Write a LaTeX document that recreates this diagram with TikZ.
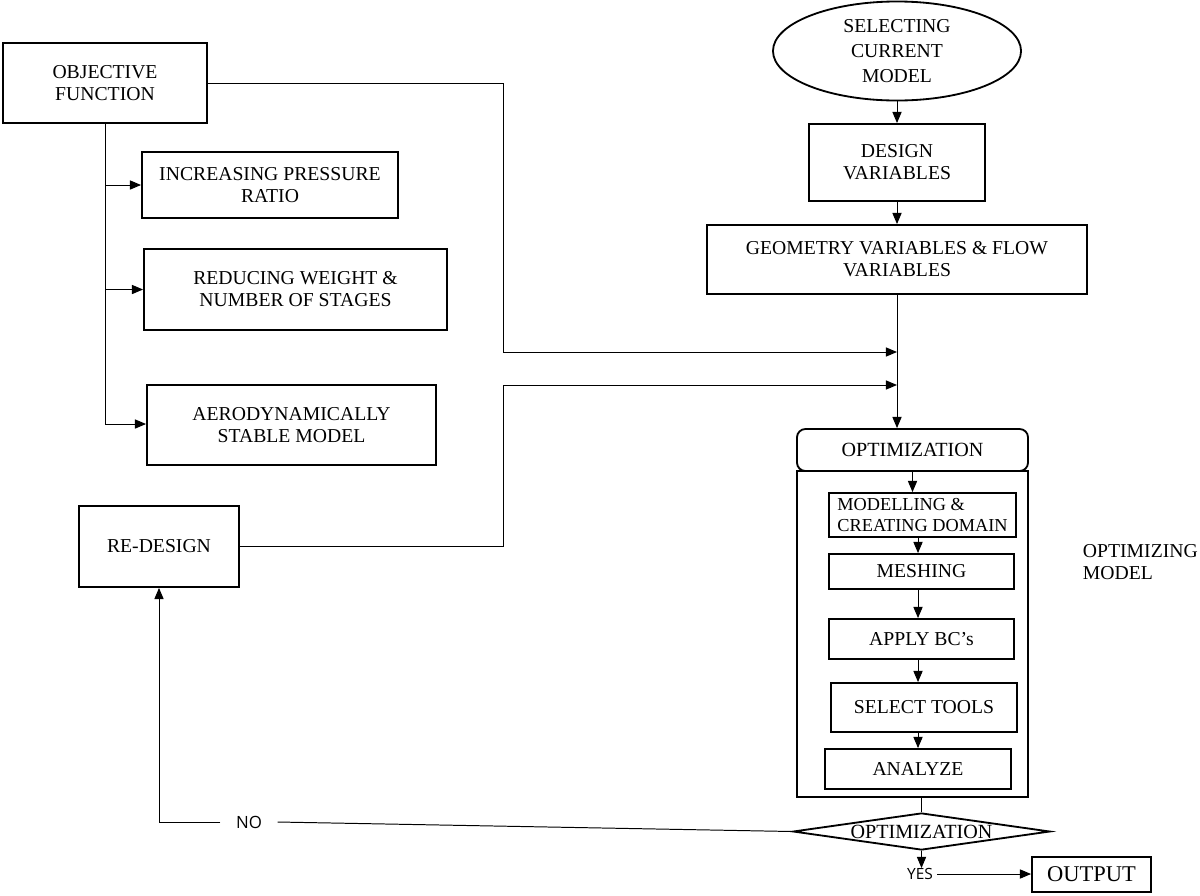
\documentclass[tikz,border=0pt]{standalone}
\usepackage{fontspec}
\setmainfont{Liberation Serif}
\newfontfamily\yesnofont{Open Sans}
\usetikzlibrary{arrows.meta}
\usetikzlibrary{shapes,positioning}

\begin{document}
\begin{tikzpicture}[x=0.025cm, y=-0.025cm]
    \tikzstyle{arrow} = [line width=0.7pt,-{Triangle[length=2.8mm,width=2.3mm]}]
    \tikzstyle{line} = [line width=0.7pt]
    \tikzstyle{box} = [draw, line width=1.3pt, inner sep=2pt, align=center, font=\fontsize{14}{15.6}\selectfont]
    \tikzstyle{yn} = [inner sep=0pt, inner xsep=11pt, font=\yesnofont\fontsize{12}{14}\selectfont]
    \useasboundingbox (0,0) rectangle (1200,895);

    % left column
    \node[box, minimum width=5.1cm, minimum height=2cm] (obj) at (105,83) {OBJECTIVE\\FUNCTION};
    \node[box, minimum width=6.4cm, minimum height=1.65cm] (inc) at (270,185) {INCREASING PRESSURE\\RATIO};
    \node[box, minimum width=7.575cm, minimum height=2.025cm] (red) at (295.5,289.5) {REDUCING WEIGHT \&\\NUMBER OF STAGES};
    \node[box, minimum width=7.225cm, minimum height=2cm] (aero) at (291.5,425) {AERODYNAMICALLY\\STABLE MODEL};
    \node[box, minimum width=4cm, minimum height=2.025cm] (rd) at (159,546.5) {RE-DESIGN};

    % right column
    \node[draw, ellipse, line width=1.3pt, inner sep=0pt, minimum width=6.2cm, minimum height=2.475cm, align=center, font=\fontsize{14}{15.6}\selectfont] (ell) at (897,51) {SELECTING\\[2pt]CURRENT\\[2pt]MODEL};
    \node[box, minimum width=4.4cm, minimum height=1.925cm] (dv) at (897,162.5) {DESIGN\\VARIABLES};
    \node[box, minimum width=9.5cm, minimum height=1.725cm] (geom) at (897,259.5) {GEOMETRY VARIABLES \& FLOW\\VARIABLES};
    \node[box, rounded corners=6pt, minimum width=5.775cm, minimum height=1.05cm, font=\fontsize{14.3}{16}\selectfont] (opt) at (912.5,450) {OPTIMIZATION};
    \node[box, minimum width=5.775cm, minimum height=8.15cm] (frame) at (912.5,634) {};
    \node[box, minimum width=4.675cm, minimum height=1.1cm, align=left, font=\fontsize{13}{14.5}\selectfont] (model) at (922.5,515) {MODELLING \&\\CREATING DOMAIN};
    \node[box, minimum width=4.625cm, minimum height=0.875cm] (mesh) at (921.5,571.5) {MESHING};
    \node[box, minimum width=4.625cm, minimum height=1cm] (bc) at (921.5,639) {APPLY BC’s};
    \node[box, minimum width=4.65cm, minimum height=1.225cm] (tools) at (924,707.5) {SELECT TOOLS};
    \node[box, minimum width=4.65cm, minimum height=1cm] (ana) at (918,769) {ANALYZE};
    \node[draw, diamond, aspect=6.9, line width=1.3pt, inner sep=0pt, minimum width=6.425cm, minimum height=0.925cm, font=\fontsize{14.3}{15}\selectfont] (dec) at (921.5,831.5) {OPTIMIZATION};
    \node[box, minimum width=2.975cm, minimum height=0.875cm, font=\fontsize{16}{18}\selectfont] (out) at (1091.5,874.5) {OUTPUT};
    \node[anchor=west, align=left, font=\fontsize{14}{15.6}\selectfont] (optlbl) at (1078,562) {OPTIMIZING\\MODEL};
    \node[yn] (no) at (249,822) {NO};
    \node[yn, inner xsep=3pt, font=\yesnofont\fontsize{11}{13}\selectfont] (yes) at (920,874) {YES};

    \coordinate (trunk) at (105,424);
    \coordinate (bendA) at (503,352);
    \coordinate (bendB) at (503,385);
    \coordinate (col) at (918,0);

    % objective branches
    \draw[line] (obj.south) -- (trunk);
    \draw[arrow] (obj.south |- inc.west) -- (inc.west);
    \draw[arrow] (obj.south |- red.west) -- (red.west);
    \draw[arrow] (trunk) -- (trunk -| aero.west);
    \draw[arrow] (obj.east) -| (bendA) -- (bendA -| geom.south);
    \draw[arrow] (rd.east) -| (bendB) -- (bendB -| geom.south);

    % main flow
    \draw[arrow] (ell.south) -- (dv.north);
    \draw[arrow] (dv.south) -- (geom.north);
    \draw[arrow] (geom.south) -- (geom.south |- opt.north);
    \draw[arrow] (opt.south) -- (opt.south |- model.north);
    \draw[arrow] (model.south -| col) -- (mesh.north -| col);
    \draw[arrow] (mesh.south -| col) -- (bc.north -| col);
    \draw[arrow] (bc.south -| col) -- (tools.north -| col);
    \draw[arrow] (tools.south -| col) -- (ana.north -| col);
    \draw[line] (dec.north |- frame.south) -- (dec.north);
    \draw[arrow] (dec.south) -- (dec.south |- yes.north);
    \draw[arrow] (yes.east) -- (yes.east -| out.west);
    \draw[line] (dec.west) -- (no.east);
    \draw[arrow] (no.west) -- (no.west -| rd.south) -- (rd.south);
\end{tikzpicture}
\end{document}
